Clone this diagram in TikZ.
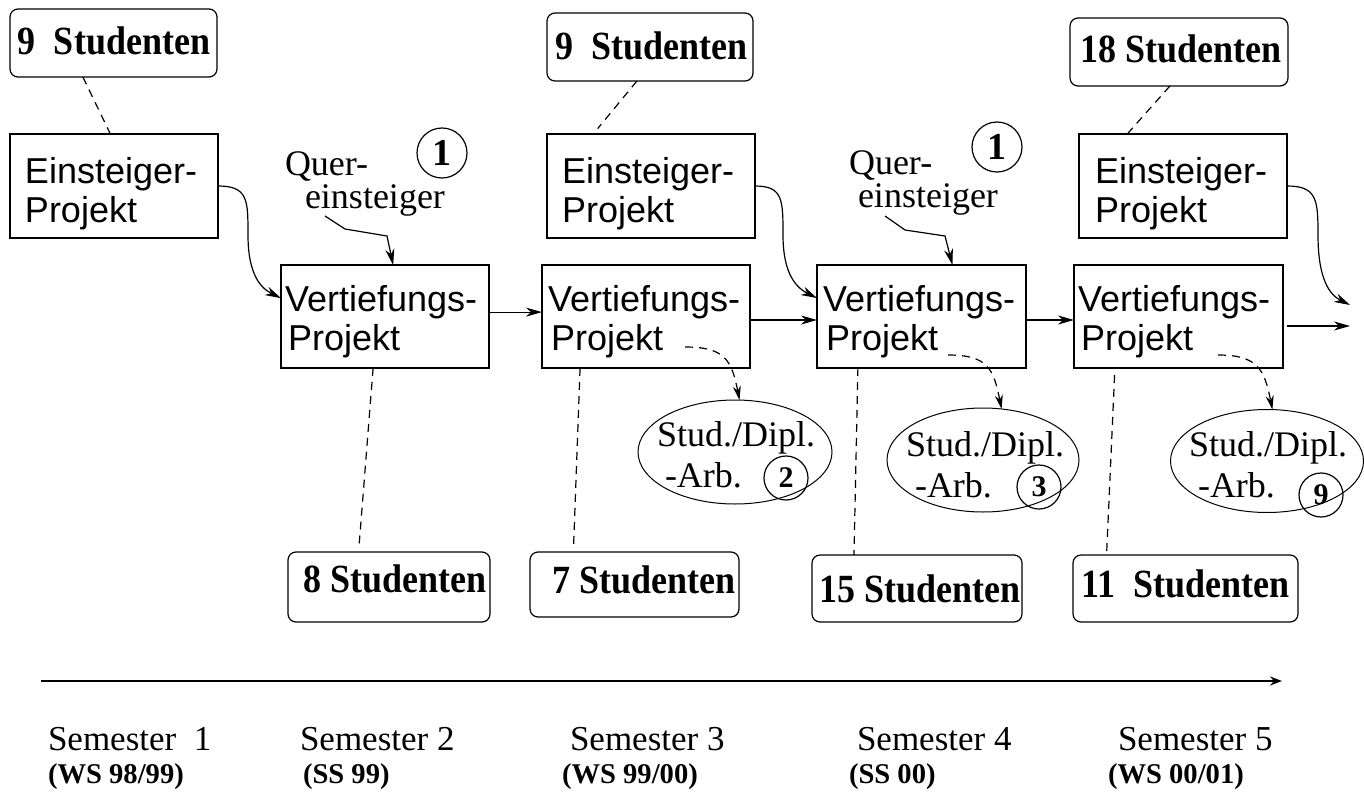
\documentclass[tikz,border=0pt]{standalone}
\usepackage{fontspec}
\setmainfont{Liberation Serif}
\newfontfamily\sansf{Liberation Sans}
\newfontfamily\studf[FakeStretch=0.9]{Liberation Serif}
\usetikzlibrary{arrows.meta,shapes.geometric,calc}

\begin{document}
\begin{tikzpicture}[x=0.5pt,y=-0.5pt,
  every node/.style={inner sep=0pt, outer sep=0pt},
  wh/.style 2 args={minimum width=#1*0.5pt, minimum height=#2*0.5pt},
  frame/.style={draw, line width=0.6pt},
  cntbox/.style={frame, rectangle, rounded corners=4pt},
  projbox/.style={frame, rectangle},
  workell/.style={draw, ellipse, line width=0.5pt},
  numring/.style={draw, circle, line width=0.6pt, minimum size=22pt,
    font=\bfseries\fontsize{15}{15}\selectfont},
  bignum/.style={draw, circle, line width=0.6pt, minimum size=25pt,
    font=\bfseries\fontsize{19}{19}\selectfont},
  cnttext/.style={anchor=base west, font=\studf\bfseries\fontsize{20}{20}\selectfont},
  projtext/.style={anchor=base west, align=left, font=\sansf\fontsize{18}{19.3}\selectfont},
  worktext/.style={anchor=base west, align=left, font=\fontsize{18}{20.5}\selectfont},
  quertext/.style={anchor=base west, align=left, font=\fontsize{18}{16.5}\selectfont},
  semtext/.style={anchor=base west, font=\fontsize{17.5}{17.5}\selectfont},
  semdate/.style={anchor=base west, font=\bfseries\fontsize{14.3}{14.3}\selectfont},
  conn/.style={line width=0.6pt, -{Stealth[length=8pt,width=4.5pt,inset=2.5pt]}},
  dconn/.style={line width=0.6pt, dash pattern=on 4pt off 3pt,
    -{Stealth[length=7pt,width=4pt,inset=2.2pt]}},
  dline/.style={line width=0.6pt, dash pattern=on 4pt off 3pt},
]
\fill[white] (0,0) rectangle (1364,792);
\useasboundingbox (0,0) rectangle (1364,792);

% student counts at the start of each entry project
\node[cntbox, wh={207}{68}] (t1) at (113.5,43) {};
\node[cnttext] (t1l) at (18,55) {9~~Studenten};
\node[cntbox, wh={206}{68}] (t2) at (650,47) {};
\node[cnttext] (t2l) at (555,60) {9~~Studenten};
\node[cntbox, wh={218}{68}] (t3) at (1179,52) {};
\node[cnttext] (t3l) at (1080,63) {18 Studenten};

% entry projects (text nodes sit on the baseline of their last line)
\node[projbox, wh={208}{104}] (e1) at (114,186) {};
\node[projtext] (e1l) at (25,222) {Einsteiger-\\Projekt};
\node[projbox, wh={208}{104}] (e2) at (651,186) {};
\node[projtext] (e2l) at (562,222) {Einsteiger-\\Projekt};
\node[projbox, wh={208}{104}] (e3) at (1183,186) {};
\node[projtext] (e3l) at (1095,222) {Einsteiger-\\Projekt};

% advanced projects
\node[projbox, wh={208}{103}] (v1) at (385,316.5) {};
\node[projtext] (v1l) at (285,350) {Vertiefungs-\\\hspace*{1.5pt}Projekt};
\node[projbox, wh={208}{103}] (v2) at (646,316.5) {};
\node[projtext] (v2l) at (548,350) {Vertiefungs-\\\hspace*{1.5pt}Projekt};
\node[projbox, wh={209}{103}] (v3) at (921.5,316.5) {};
\node[projtext] (v3l) at (823,350) {Vertiefungs-\\\hspace*{1.5pt}Projekt};
\node[projbox, wh={209}{103}] (v4) at (1178.5,316.5) {};
\node[projtext] (v4l) at (1078,350) {Vertiefungs-\\\hspace*{1.5pt}Projekt};

% lateral entrants
\node[quertext] (q1l) at (285,208) {Quer-\\\hspace*{10pt}einsteiger};
\node[bignum] (n1) at (442,153) {1};
\node[quertext] (q2l) at (849,207) {Quer-\\\hspace*{4.5pt}einsteiger};
\node[bignum] (n2) at (997,147) {1};

% theses
\node[workell, wh={194}{104}] (s1) at (735,452) {};
\node[worktext] (s1l) at (657,487) {Stud./Dipl.\\\hspace*{4pt}-Arb.};
\node[numring] (c2) at (786,478) {2};
\node[workell, wh={192}{104}] (s2) at (983,460) {};
\node[worktext] (s2l) at (906,497) {Stud./Dipl.\\\hspace*{4.5pt}-Arb.};
\node[numring] (c3) at (1039,487) {3};
\node[workell, wh={193}{103}] (s3) at (1267,461) {};
\node[worktext] (s3l) at (1189,497) {Stud./Dipl.\\\hspace*{4.5pt}-Arb.};
\node[numring] (c9) at (1321,495) {9};

% student counts of the advanced projects
\node[cntbox, wh={202}{70}] (b8) at (389,587) {};
\node[cnttext] (b8l) at (303,592) {8 Studenten};
\node[cntbox, wh={209}{65}] (b7) at (634.5,584.5) {};
\node[cnttext] (b7l) at (552,593) {7 Studenten};
\node[cntbox, wh={210}{67}] (b15) at (917,588.5) {};
\node[cnttext] (b15l) at (819,602) {15 Studenten};
\node[cntbox, wh={225}{67}] (b11) at (1185.5,588.5) {};
\node[cnttext] (b11l) at (1081,597) {11~~Studenten};

% count annotations
\draw[dline] (t1.228) -- (e1.94);
\draw[dline, shorten >=3.5pt] (t2.249) -- (e2.138);
\draw[dline] (t3.255) -- (e3.137);
\draw[dline, shorten >=2pt] (v1.257) -- (b8.131);
\draw[dline, shorten >=2pt] (v2.218) -- (b7.152);
\draw[dline] (v3.219) -- (b15.152);
\draw[dline, shorten <=3.5pt] (v4.219) -- (b11.157);

% flow between projects
\draw[conn] (e1.east) .. controls +(30,0) and +(0,-35) .. (248,235)
  .. controls +(0,40) and +(-20,-10) .. (v1.170);
\draw[conn] (e2.east) .. controls +(28,0) and +(0,-35) .. (783,235)
  .. controls +(0,40) and +(-20,-10) .. (v3.170);
\coordinate (e3out) at (1350,305);
\draw[conn] (e3.east) .. controls +(30,0) and +(0,-35) .. (1318,235)
  .. controls +(0,45) and +(-20,-10) .. (e3out);

\draw[conn] ([yshift=2.2pt]v1.east) -- ([yshift=2.2pt]v2.west);
\draw[conn] ([yshift=-1.75pt]v2.east) -- ([yshift=-1.75pt]v3.west);
\draw[conn] ([yshift=-1.75pt]v3.east) -- ([yshift=-1.75pt]v4.west);
\coordinate (v4out) at (1350,326);
\draw[conn] ([xshift=2pt,yshift=-4.75pt]v4.east) -- (v4out);

\coordinate (q1s) at (325,216);
\draw[conn] (q1s) -- (345,229) -- (387,236) -- (v1.81);
\coordinate (q2s) at (885,216);
\draw[conn] (q2s) -- (905,230) -- (945,236) -- (v3.59);

% theses coming out of the advanced projects
\coordinate (w1s) at (685,347);
\draw[dconn] (w1s) .. controls +(40,0) and +(-8,-40) .. (s1.85);
\coordinate (w2s) at (948,355);
\draw[dconn] (w2s) .. controls +(40,0) and +(-8,-40) .. (s2.70);
\coordinate (w3s) at (1218,355);
\draw[dconn] (w3s) .. controls +(40,0) and +(-8,-40) .. (s3.84);

% time axis
\coordinate (ta) at (41,681);
\coordinate (tb) at (1282,681);
\draw[line width=1pt, -{Stealth[length=6pt,width=4.5pt,inset=2pt]}] (ta) -- (tb);

\node[semtext] (sem1) at (48,750) {Semester~~1};
\node[semdate] (sem1d) at (48,783) {(WS 98/99)};
\node[semtext] (sem2) at (300,750) {Semester 2};
\node[semdate] (sem2d) at (303,783) {(SS 99)};
\node[semtext] (sem3) at (570,750) {Semester 3};
\node[semdate] (sem3d) at (562,783) {(WS 99/00)};
\node[semtext] (sem4) at (857,750) {Semester 4};
\node[semdate] (sem4d) at (849,783) {(SS 00)};
\node[semtext] (sem5) at (1118,750) {Semester 5};
\node[semdate] (sem5d) at (1108,783) {(WS 00/01)};
\end{tikzpicture}
\end{document}
